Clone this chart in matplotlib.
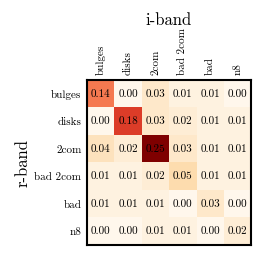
import numpy as np
import matplotlib
matplotlib.use("Agg")
import matplotlib.pyplot as plt

plt.rcParams['font.family'] = 'cmr10'
plt.rcParams['axes.formatter.use_mathtext'] = True

# confusion between r-band (rows) and i-band (columns) classifications
labels = ["bulges", "disks", "2com", "bad 2com", "bad", "n8"]
values = np.array([
    [0.14, 0.00, 0.03, 0.01, 0.01, 0.00],
    [0.00, 0.18, 0.03, 0.02, 0.01, 0.01],
    [0.04, 0.02, 0.25, 0.03, 0.01, 0.01],
    [0.01, 0.01, 0.02, 0.05, 0.01, 0.01],
    [0.01, 0.01, 0.01, 0.00, 0.03, 0.00],
    [0.00, 0.00, 0.01, 0.01, 0.00, 0.02],
])

fig = plt.figure(figsize=(2.66, 2.66), dpi=100)
ax = fig.add_axes([0.327, 0.079, 0.617, 0.62])
ax.imshow(values, cmap='OrRd', vmin=0, vmax=0.25, aspect='auto')

for i in range(len(labels)):
    for j in range(len(labels)):
        ax.text(j, i, f"{values[i, j]:.2f}", ha='center', va='center', fontsize=8)

ax.set_xticks(range(len(labels)))
ax.set_yticks(range(len(labels)))
ax.set_xticklabels(labels, rotation=90, fontsize=8)
ax.set_yticklabels(labels, fontsize=8)
ax.xaxis.tick_top()
ax.tick_params(length=0, pad=4)
for s in ax.spines.values():
    s.set_linewidth(1.5)

ax.set_title("i-band", fontsize=12, pad=2)
ax.set_ylabel("r-band", fontsize=12, labelpad=3)

fig.savefig("out.png", dpi=100)
